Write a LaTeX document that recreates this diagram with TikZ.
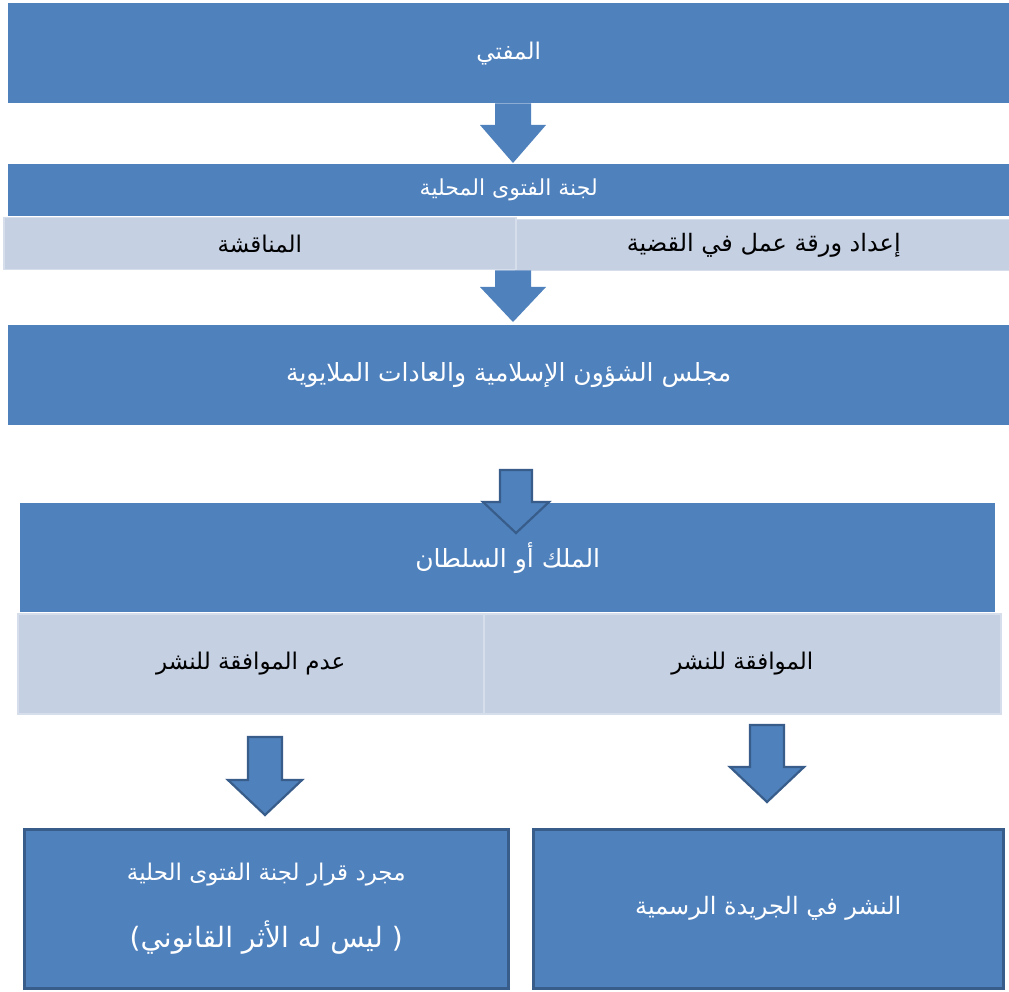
\documentclass[tikz,border=0pt]{standalone}
\usepackage{fontspec}
\newfontfamily\arabicfont[Script=Arabic]{DejaVu Sans}
\TeXXeTstate=1
\usetikzlibrary{calc}
\definecolor{mainblue}{RGB}{79,129,189}
\definecolor{darkblue}{RGB}{56,93,138}
\definecolor{paleblue}{RGB}{197,208,227}
\definecolor{paleedge}{RGB}{214,222,236}
\newcommand\artxt[1]{{\arabicfont\beginR #1\endR}}
\newcommand\fsz[1]{\fontsize{#1}{#1}\selectfont}
% style, from, tip, shaft half width, head half width, head length
\newcommand\blockarrow[6]{%
  \path[#1] let \p1=(#2), \p2=(#3) in
    (\x2-#4,\y1) -- (\x2+#4,\y1) -- (\x2+#4,\y2+#6) -- (\x2+#5,\y2+#6)
    -- (\p2) -- (\x2-#5,\y2+#6) -- (\x2-#4,\y2+#6) -- cycle;}
\tikzset{
  bluebox/.style={draw=none, fill=mainblue, text=white, anchor=north west,
    inner sep=0pt},
  palebox/.style={draw=paleedge, line width=1.5pt, fill=paleblue, text=black,
    anchor=north west, inner sep=0pt},
  outbox/.style={draw=darkblue, line width=2.5pt, fill=mainblue, text=white,
    anchor=north west, inner sep=0pt, align=center},
  flatarrow/.style={fill=mainblue},
  edgearrow/.style={fill=mainblue, draw=darkblue, line width=2.2pt, line join=miter},
}
\begin{document}
\begin{tikzpicture}[x=1pt, y=-1pt]
\useasboundingbox (0,0) rectangle (1009,992);
\fill[white] (0,0) rectangle (1009,992);

% boxes
\node[bluebox, minimum width=1001pt, minimum height=100pt, font=\fsz{23}] (mufti) at (8,3)
  {\artxt{المفتي}};
\node[bluebox, minimum width=1001pt, minimum height=52pt, font=\fsz{22}] (lajna) at (8,164)
  {\artxt{لجنة الفتوى المحلية}};
\node[palebox, minimum width=512pt, minimum height=52pt, font=\fsz{23}] (munaqasha) at (3,217)
  {\artxt{المناقشة}};
\node[palebox, minimum width=496pt, minimum height=51pt, font=\fsz{24}] (warqa) at (515,219)
  {\artxt{إعداد ورقة عمل في القضية}};
\node[bluebox, minimum width=1001pt, minimum height=100pt, font=\fsz{25}] (majlis) at (8,325)
  {\artxt{مجلس الشؤون الإسلامية والعادات الملايوية}};
\node[bluebox, minimum width=975pt, minimum height=109pt, font=\fsz{25}] (malik) at (20,503)
  {\artxt{الملك أو السلطان}};
\node[palebox, minimum width=466pt, minimum height=100pt, font=\fsz{23}] (adam) at (17,613)
  {\artxt{عدم الموافقة للنشر}};
\node[palebox, minimum width=517pt, minimum height=100pt, font=\fsz{23}] (muwafaqa) at (483,613)
  {\artxt{الموافقة للنشر}};
\node[outbox, minimum width=484pt, minimum height=159pt] (qarar) at (23,828)
  {\fsz{23}\artxt{مجرد قرار لجنة الفتوى الحلية}\\[33pt]
   \fsz{28}\artxt{( ليس له الأثر القانوني)}};
\node[outbox, minimum width=470pt, minimum height=159pt, font=\fsz{24}] (nashr) at (532,828)
  {\artxt{النشر في الجريدة الرسمية}};

% arrow end points
\coordinate (t1) at (513,163);
\coordinate (t2) at (513,322);
\coordinate (s3) at (516,470);
\coordinate (t3) at (516,533);
\coordinate (s4) at (265,737);
\coordinate (t4) at (265,815);
\coordinate (s5) at (767,725);
\coordinate (t5) at (767,802);

% arrows
\blockarrow{flatarrow}{mufti.south}{t1}{18pt}{33pt}{38pt}
\blockarrow{flatarrow}{munaqasha.south}{t2}{18pt}{33pt}{35pt}
\blockarrow{edgearrow}{s3}{t3}{16pt}{33pt}{31pt}
\blockarrow{edgearrow}{s4}{t4}{17pt}{37pt}{35pt}
\blockarrow{edgearrow}{s5}{t5}{17pt}{37pt}{35pt}
\end{tikzpicture}
\end{document}
